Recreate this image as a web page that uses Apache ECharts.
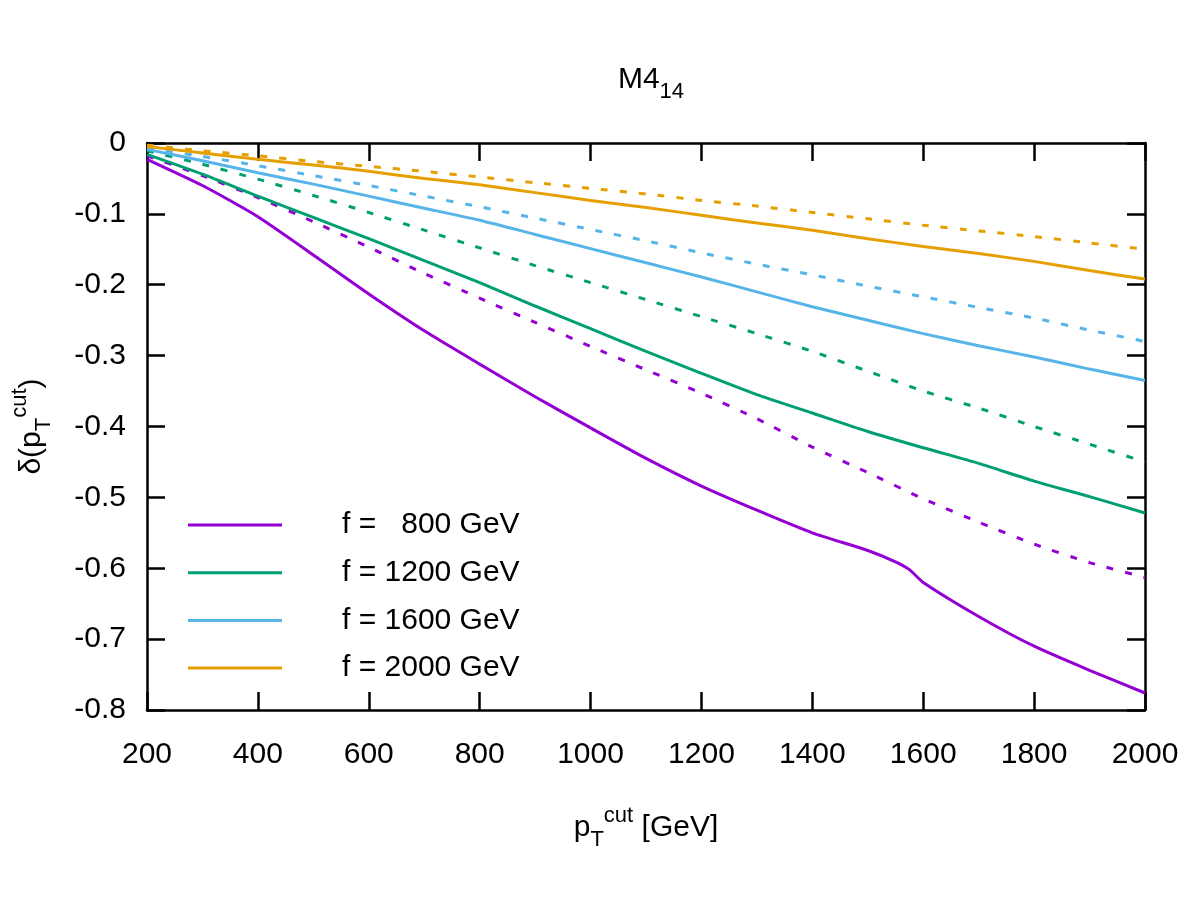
<!DOCTYPE html>
<html>
<head>
<meta charset="utf-8">
<title>M4_14</title>
<script src="https://cdn.jsdelivr.net/npm/echarts@6/dist/echarts.min.js"></script>
<style>
    html, body { margin: 0; padding: 0; background: #fff; }
    #main { width: 1200px; height: 900px; }
</style>
</head>
<body>
<div id="main"></div>
<script>
// p_T^cut values (GeV)
var pt = [200, 300, 400, 500, 600, 700, 800, 900, 1000, 1100, 1200, 1300, 1400, 1500, 1600, 1700, 1800, 1900, 2000];
// f = 800 solid curve has a kink near 1570, so it gets a few extra points
var ptF800 = [200, 300, 400, 500, 600, 700, 800, 900, 1000, 1100, 1200, 1300, 1400, 1500, 1550, 1575, 1600, 1700, 1800, 1900, 2000];

// solid curves
var f800Solid  = [-0.023, -0.060, -0.104, -0.158, -0.213, -0.265, -0.312, -0.358, -0.402, -0.445, -0.484, -0.518, -0.550, -0.575, -0.591, -0.602, -0.620, -0.668, -0.710, -0.744, -0.776];
var f1200Solid = [-0.016, -0.044, -0.075, -0.105, -0.135, -0.166, -0.197, -0.230, -0.262, -0.294, -0.325, -0.355, -0.381, -0.407, -0.430, -0.452, -0.477, -0.499, -0.522];
var f1600Solid = [-0.009, -0.025, -0.042, -0.058, -0.075, -0.092, -0.109, -0.129, -0.149, -0.169, -0.189, -0.210, -0.231, -0.250, -0.269, -0.286, -0.302, -0.319, -0.335];
var f2000Solid = [-0.005, -0.014, -0.023, -0.031, -0.040, -0.050, -0.059, -0.070, -0.081, -0.091, -0.102, -0.113, -0.123, -0.135, -0.146, -0.156, -0.167, -0.180, -0.192];

// dashed curves
var f800Dash  = [-0.018, -0.046, -0.077, -0.111, -0.147, -0.184, -0.219, -0.253, -0.287, -0.320, -0.353, -0.389, -0.429, -0.465, -0.502, -0.535, -0.566, -0.592, -0.613];
var f1200Dash = [-0.011, -0.030, -0.051, -0.074, -0.098, -0.123, -0.148, -0.173, -0.197, -0.221, -0.245, -0.269, -0.294, -0.322, -0.350, -0.374, -0.400, -0.425, -0.450];
var f1600Dash = [-0.007, -0.019, -0.032, -0.046, -0.060, -0.075, -0.090, -0.106, -0.122, -0.138, -0.155, -0.171, -0.186, -0.202, -0.217, -0.232, -0.247, -0.264, -0.280];
var f2000Dash = [-0.003, -0.011, -0.018, -0.026, -0.033, -0.040, -0.048, -0.056, -0.064, -0.072, -0.081, -0.089, -0.098, -0.107, -0.116, -0.124, -0.132, -0.141, -0.150];

var legendNames = ['f =   800 GeV', 'f = 1200 GeV', 'f = 1600 GeV', 'f = 2000 GeV'];
var colors = ['#9400d3', '#009e73', '#56b4e9', '#e69f00'];

var FONT = 'Liberation Sans, Arial, Helvetica, sans-serif';
var FS = 30;

function pairs(xs, ys) {
    return xs.map(function (x, i) { return [x, ys[i]]; });
}

function lineSeries(name, xs, ys, color, dashed) {
    return {
        name: name,
        type: 'line',
        data: pairs(xs, ys),
        symbol: 'none',
        showSymbol: false,
        smooth: 0.2,
        silent: true,
        color: color,
        lineStyle: { color: color, width: 3, type: dashed ? [7, 12] : 'solid' },
        z: dashed ? 2 : 3
    };
}

var frameLine = { show: true, onZero: false, lineStyle: { color: '#000', width: 2.5 } };
var frameTick = { show: true, inside: true, length: 18, lineStyle: { color: '#000', width: 2.5 } };

var richSub = {
    m: { fontSize: FS, fontFamily: FONT, fontWeight: 'normal', color: '#000', lineHeight: 46, verticalAlign: 'middle' },
    sub: { fontSize: 22, fontFamily: FONT, fontWeight: 'normal', color: '#000', lineHeight: 22, verticalAlign: 'bottom' },
    sup: { fontSize: 22, fontFamily: FONT, fontWeight: 'normal', color: '#000', lineHeight: 22, verticalAlign: 'top' }
};

var option = {
    backgroundColor: '#fff',
    animation: false,
    title: {
        text: '{m|M4}{sub|14}',
        left: 646,
        top: 52,
        textAlign: 'center',
        textStyle: { fontWeight: 'normal', rich: richSub }
    },
    legend: {
        data: legendNames.map(function (n) { return { name: n, icon: 'rect' }; }),
        orient: 'vertical',
        left: 183,
        top: 505,
        itemWidth: 94,
        itemHeight: 3,
        itemGap: 17.7,
        selectedMode: false,
        textStyle: { fontSize: FS, fontFamily: FONT, color: '#000', padding: [0, 0, 0, 55], lineHeight: 30 }
    },
    grid: { left: 147, top: 143, right: 55, bottom: 190, containLabel: false },
    xAxis: [{
        type: 'value', min: 200, max: 2000, interval: 200, position: 'bottom',
        axisLine: frameLine, axisTick: frameTick, splitLine: { show: false },
        axisLabel: {
            color: '#000', fontSize: FS, fontFamily: FONT, margin: 30,
            formatter: function (v) { return String(v); }
        },
        name: '{m|p}{sub|T}{sup|cut}{m| [GeV]}',
        nameLocation: 'middle', nameGap: 95,
        nameTextStyle: { rich: richSub }
    }, {
        type: 'value', min: 200, max: 2000, interval: 200, position: 'top',
        axisLine: frameLine, axisTick: frameTick, splitLine: { show: false },
        axisLabel: { show: false }
    }],
    yAxis: [{
        type: 'value', min: -0.8, max: 0, interval: 0.1, position: 'left',
        axisLine: frameLine, axisTick: frameTick, splitLine: { show: false },
        axisLabel: {
            color: '#000', fontSize: FS, fontFamily: FONT, margin: 21,
            formatter: function (v) { return Math.abs(v) < 1e-9 ? '0' : v.toFixed(1); }
        },
        name: '{m|δ(p}{sub|T}{sup|cut}{m|)}',
        nameLocation: 'middle', nameGap: 92, nameRotate: 90,
        nameTextStyle: { rich: richSub }
    }, {
        type: 'value', min: -0.8, max: 0, interval: 0.1, position: 'right',
        axisLine: frameLine, axisTick: frameTick, splitLine: { show: false },
        axisLabel: { show: false }
    }],
    series: [
        lineSeries(legendNames[0], ptF800, f800Solid, colors[0], false),
        lineSeries(legendNames[1], pt, f1200Solid, colors[1], false),
        lineSeries(legendNames[2], pt, f1600Solid, colors[2], false),
        lineSeries(legendNames[3], pt, f2000Solid, colors[3], false),
        lineSeries('f800 dashed', pt, f800Dash, colors[0], true),
        lineSeries('f1200 dashed', pt, f1200Dash, colors[1], true),
        lineSeries('f1600 dashed', pt, f1600Dash, colors[2], true),
        lineSeries('f2000 dashed', pt, f2000Dash, colors[3], true)
    ]
};

var myChart = echarts.init(document.getElementById('main'));
myChart.setOption(option);
</script>
</body>
</html>
